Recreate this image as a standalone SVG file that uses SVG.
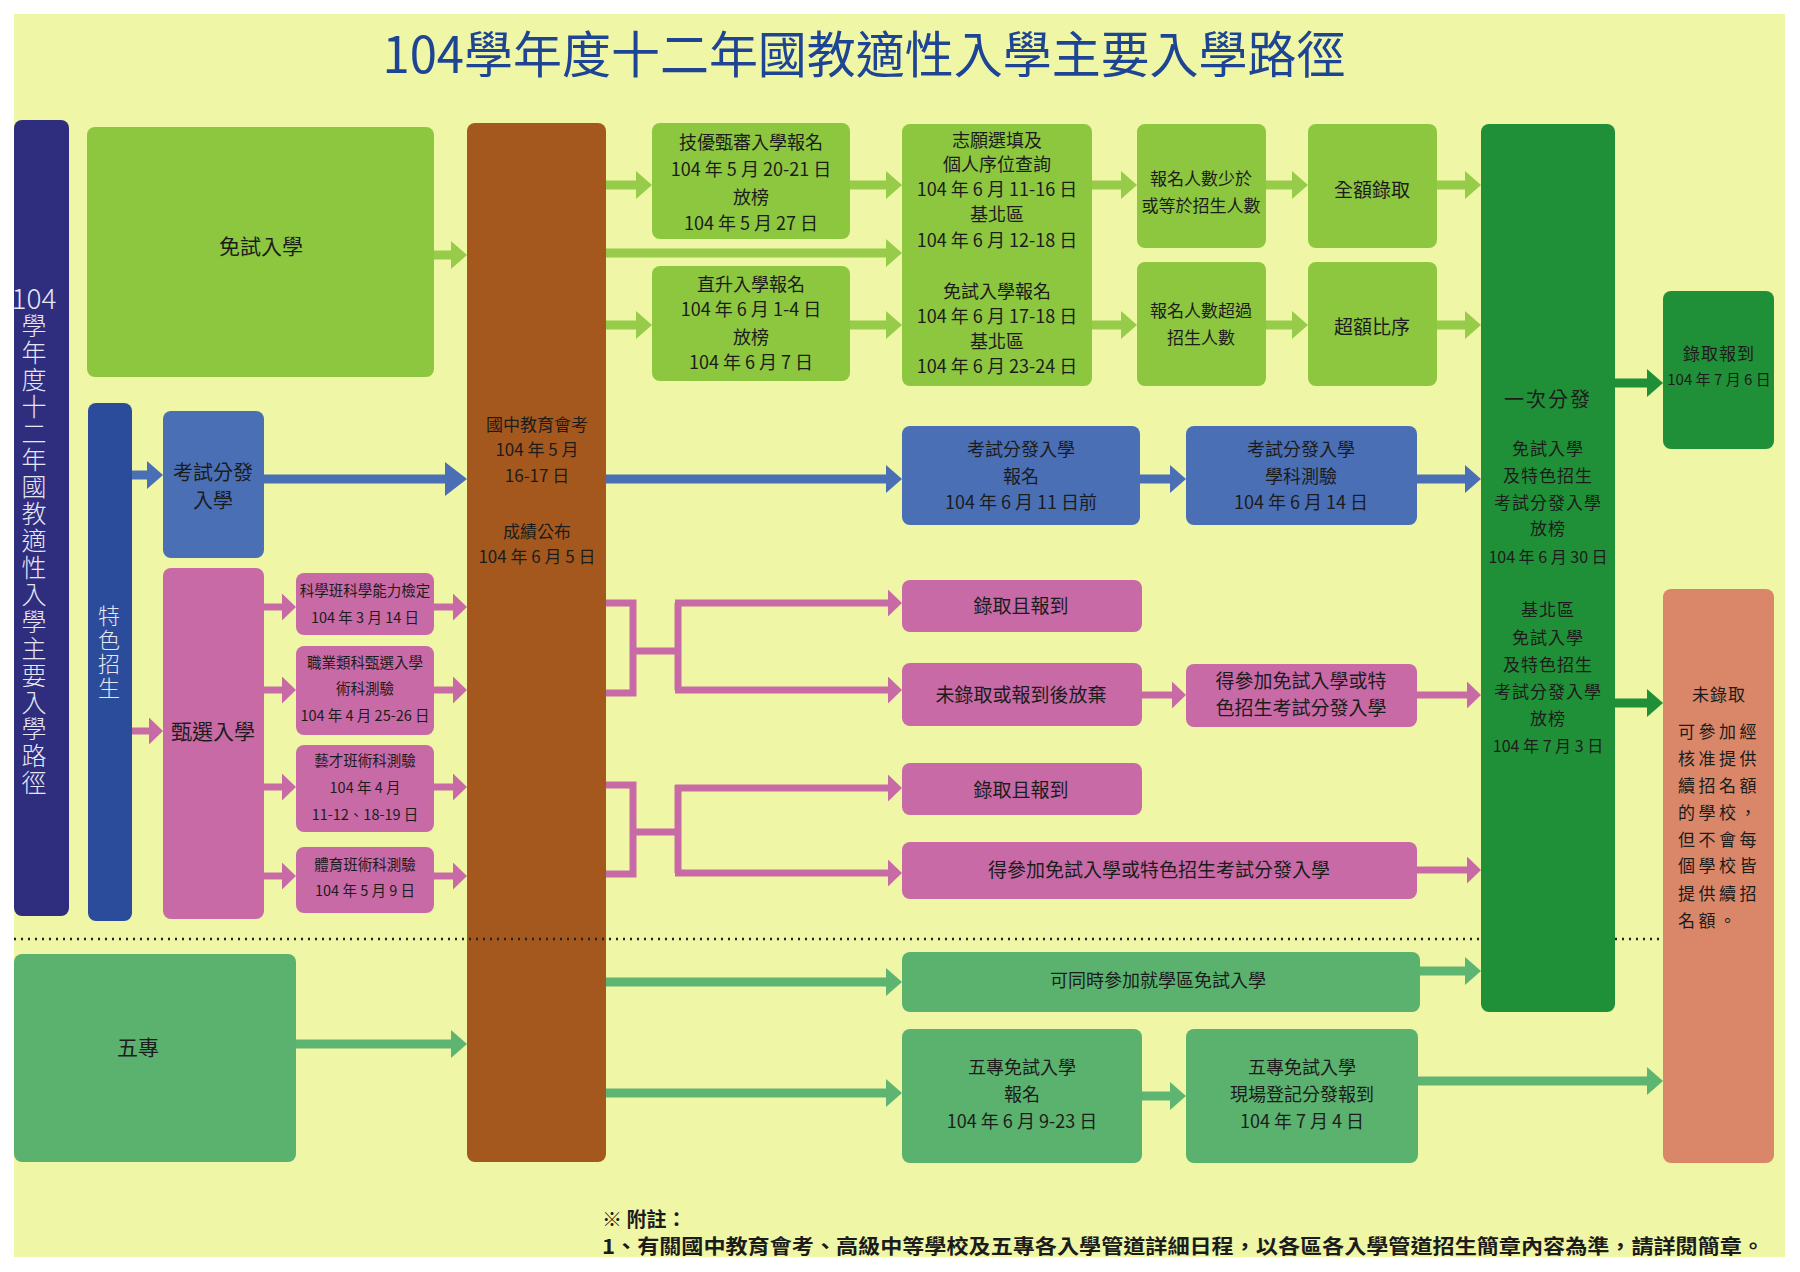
<svg xmlns="http://www.w3.org/2000/svg" width="1800" height="1272" viewBox="0 0 1800 1272">
<defs>
<style>
text{font-family:"Noto Sans CJK TC","Noto Sans CJK SC","Noto Sans",sans-serif;fill:#1c1c1c}
.c{text-anchor:middle}
.f18{font-size:18px}
.f19{font-size:19px}
.f17{font-size:17px}
.f15{font-size:14.5px}
.f21{font-size:21px}
.lt{fill:#e6e6f4;font-weight:300}
.vt{writing-mode:vertical-rl;text-orientation:upright}
.lg{fill:#8DC63F}.mg{fill:#5AB26E}.dg{fill:#209038}.bl{fill:#4A6FB5}.pk{fill:#C86AA6}
.a{fill:none;stroke-width:9}
.alg{stroke:#97CB4A;marker-end:url(#mlg)}
.amg{stroke:#5DB571;marker-end:url(#mmg)}
.adg{stroke:#209038;marker-end:url(#mdg)}
.abl{stroke:#4A6FB5;marker-end:url(#mbl)}
.apk{stroke:#C86AA6;stroke-width:7;marker-end:url(#mpk)}
.pkl{fill:none;stroke:#C86AA6;stroke-width:7}
.dot{stroke:#222;stroke-width:2.5;stroke-dasharray:2 5}
</style>
<marker id="mlg" markerUnits="userSpaceOnUse" markerWidth="16" markerHeight="28" viewBox="0 0 16 28" refX="6" refY="14" orient="auto"><path d="M0,0L16,14L0,28Z" fill="#97CB4A"/></marker>
<marker id="mmg" markerUnits="userSpaceOnUse" markerWidth="16" markerHeight="28" viewBox="0 0 16 28" refX="6" refY="14" orient="auto"><path d="M0,0L16,14L0,28Z" fill="#5DB571"/></marker>
<marker id="mdg" markerUnits="userSpaceOnUse" markerWidth="16" markerHeight="28" viewBox="0 0 16 28" refX="6" refY="14" orient="auto"><path d="M0,0L16,14L0,28Z" fill="#209038"/></marker>
<marker id="mbl" markerUnits="userSpaceOnUse" markerWidth="16" markerHeight="28" viewBox="0 0 16 28" refX="6" refY="14" orient="auto"><path d="M0,0L16,14L0,28Z" fill="#4A6FB5"/></marker>
<marker id="mbig" markerUnits="userSpaceOnUse" markerWidth="22" markerHeight="34" viewBox="0 0 22 34" refX="8" refY="17" orient="auto"><path d="M0,0L22,17L0,34Z" fill="#4A6FB5"/></marker>
<marker id="mpk" markerUnits="userSpaceOnUse" markerWidth="14" markerHeight="27" viewBox="0 0 14 27" refX="4" refY="13.5" orient="auto"><path d="M0,0L14,13.5L0,27Z" fill="#C86AA6"/></marker>
</defs>
<rect width="1800" height="1272" fill="#ffffff"/>
<rect x="14" y="14" width="1771" height="1243" fill="#EFF7A6"/>

<text id="title" x="864" y="73" class="c" style="font-size:50px;fill:#1E4594" textLength="963" lengthAdjust="spacingAndGlyphs">104學年度十二年國教適性入學主要入學路徑</text>

<g id="connectors">
<line class="a alg" x1="434" y1="255" x2="457" y2="255"/>
<line class="a alg" x1="606" y1="185" x2="642" y2="185"/>
<line class="a alg" x1="606" y1="253" x2="892" y2="253"/>
<line class="a alg" x1="606" y1="325" x2="642" y2="325"/>
<line class="a alg" x1="850" y1="185" x2="892" y2="185"/>
<line class="a alg" x1="850" y1="325" x2="892" y2="325"/>
<line class="a alg" x1="1092" y1="185" x2="1127" y2="185"/>
<line class="a alg" x1="1092" y1="325" x2="1127" y2="325"/>
<line class="a alg" x1="1266" y1="185" x2="1298" y2="185"/>
<line class="a alg" x1="1266" y1="325" x2="1298" y2="325"/>
<line class="a alg" x1="1437" y1="185" x2="1471" y2="185"/>
<line class="a alg" x1="1437" y1="325" x2="1471" y2="325"/>

<line class="a abl" x1="132" y1="475" x2="153" y2="475"/>
<line class="a abl" x1="264" y1="479" x2="453" y2="479" style="marker-end:url(#mbig)"/>
<line class="a abl" x1="606" y1="479" x2="892" y2="479"/>
<line class="a abl" x1="1140" y1="479" x2="1176" y2="479"/>
<line class="a abl" x1="1417" y1="479" x2="1471" y2="479"/>

<line class="a apk" x1="132" y1="731" x2="153" y2="731"/>
<line class="a apk" x1="264" y1="607" x2="286" y2="607"/>
<line class="a apk" x1="264" y1="690" x2="286" y2="690"/>
<line class="a apk" x1="264" y1="787" x2="286" y2="787"/>
<line class="a apk" x1="264" y1="876" x2="286" y2="876"/>
<line class="a apk" x1="434" y1="607" x2="457" y2="607"/>
<line class="a apk" x1="434" y1="690" x2="457" y2="690"/>
<line class="a apk" x1="434" y1="787" x2="457" y2="787"/>
<line class="a apk" x1="434" y1="876" x2="457" y2="876"/>
<path class="pkl" d="M606,603H633V693H606M633,651H678M678,603V690"/>
<path class="pkl" d="M606,785H633V874H606M633,832H678M678,785V873"/>
<line class="a apk" x1="675" y1="603" x2="892" y2="603"/>
<line class="a apk" x1="675" y1="690" x2="892" y2="690"/>
<line class="a apk" x1="675" y1="788" x2="892" y2="788"/>
<line class="a apk" x1="675" y1="873" x2="892" y2="873"/>
<line class="a apk" x1="1142" y1="695" x2="1176" y2="695"/>
<line class="a apk" x1="1417" y1="695" x2="1471" y2="695"/>
<line class="a apk" x1="1417" y1="870" x2="1471" y2="870"/>

<line class="a adg" x1="1615" y1="383" x2="1653" y2="383"/>
<line class="a adg" x1="1615" y1="703" x2="1653" y2="703"/>

<line class="a amg" x1="606" y1="982" x2="892" y2="982"/>
<line class="a amg" x1="1420" y1="971" x2="1471" y2="971"/>
<line class="a amg" x1="296" y1="1044" x2="457" y2="1044"/>
<line class="a amg" x1="606" y1="1093" x2="892" y2="1093"/>
<line class="a amg" x1="1142" y1="1096" x2="1176" y2="1096"/>
<line class="a amg" x1="1417" y1="1081" x2="1653" y2="1081"/>
</g>

<g id="n-side">
<rect x="14" y="120" width="55" height="796" rx="8" fill="#2E2D7E"/>
<text x="34" y="309" class="c lt" style="font-size:28px">104</text>
<text class="lt vt" style="font-size:25px;letter-spacing:1.9px" x="34" y="313">學年度十二年國教適性入學主要入學路徑</text>
</g>
<g id="n-tese">
<rect x="88" y="403" width="44" height="518" rx="8" fill="#2B4C9B"/>
<text class="lt vt" style="font-size:22px;letter-spacing:1.8px" x="109" y="605">特色招生</text>
</g>
<g id="n-mianshi">
<rect class="lg" x="87" y="127" width="347" height="250" rx="8"/>
<text x="261" y="254" class="c f21">免試入學</text>
</g>
<g id="n-kaoshi">
<rect class="bl" x="163" y="411" width="101" height="147" rx="8"/>
<text x="213" y="480" class="c" style="font-size:20px">考試分發</text>
<text x="213" y="508" class="c" style="font-size:20px">入學</text>
</g>
<g id="n-zhenxuan">
<rect class="pk" x="163" y="568" width="101" height="351" rx="8"/>
<text x="213" y="739" class="c f21">甄選入學</text>
</g>
<g id="n-kexue">
<rect class="pk" x="296" y="573" width="138" height="62" rx="8"/>
<text x="365" y="596" class="c f15">科學班科學能力檢定</text>
<text x="365" y="623" class="c f15">104 年 3 月 14 日</text>
</g>
<g id="n-zhiye">
<rect class="pk" x="296" y="646" width="138" height="89" rx="8"/>
<text x="365" y="668" class="c f15">職業類科甄選入學</text>
<text x="365" y="694" class="c f15">術科測驗</text>
<text x="365" y="721" class="c f15">104 年 4 月 25-26 日</text>
</g>
<g id="n-yicai">
<rect class="pk" x="296" y="745" width="138" height="87" rx="8"/>
<text x="365" y="766" class="c f15">藝才班術科測驗</text>
<text x="365" y="793" class="c f15">104 年 4 月</text>
<text x="365" y="820" class="c f15">11-12、18-19 日</text>
</g>
<g id="n-tiyu">
<rect class="pk" x="296" y="847" width="138" height="66" rx="8"/>
<text x="365" y="870" class="c f15">體育班術科測驗</text>
<text x="365" y="896" class="c f15">104 年 5 月 9 日</text>
</g>
<g id="n-huikao">
<rect x="467" y="123" width="139" height="1039" rx="8" fill="#A4581E"/>
<text x="537" y="431" class="c f17">國中教育會考</text>
<text x="537" y="456" class="c f17">104 年 5 月</text>
<text x="537" y="482" class="c f17">16-17 日</text>
<text x="537" y="538" class="c f17">成績公布</text>
<text x="537" y="563" class="c f17">104 年 6 月 5 日</text>
</g>
<g id="n-jiyou">
<rect class="lg" x="652" y="123" width="198" height="116" rx="8"/>
<text x="751" y="149" class="c f18">技優甄審入學報名</text>
<text x="751" y="176" class="c f18">104 年 5 月 20-21 日</text>
<text x="751" y="204" class="c f18">放榜</text>
<text x="751" y="230" class="c f18">104 年 5 月 27 日</text>
</g>
<g id="n-zhisheng">
<rect class="lg" x="652" y="266" width="198" height="115" rx="8"/>
<text x="751" y="291" class="c f18">直升入學報名</text>
<text x="751" y="316" class="c f18">104 年 6 月 1-4 日</text>
<text x="751" y="344" class="c f18">放榜</text>
<text x="751" y="369" class="c f18">104 年 6 月 7 日</text>
</g>
<g id="n-zhiyuan">
<rect class="lg" x="902" y="124" width="190" height="262" rx="8"/>
<text x="997" y="147" class="c f18">志願選填及</text>
<text x="997" y="171" class="c f18">個人序位查詢</text>
<text x="997" y="196" class="c f18">104 年 6 月 11-16 日</text>
<text x="997" y="221" class="c f18">基北區</text>
<text x="997" y="247" class="c f18">104 年 6 月 12-18 日</text>
<text x="997" y="298" class="c f18">免試入學報名</text>
<text x="997" y="323" class="c f18">104 年 6 月 17-18 日</text>
<text x="997" y="348" class="c f18">基北區</text>
<text x="997" y="373" class="c f18">104 年 6 月 23-24 日</text>
</g>
<g id="n-shaoyu">
<rect class="lg" x="1137" y="124" width="129" height="124" rx="8"/>
<text x="1201" y="185" class="c f17">報名人數少於</text>
<text x="1201" y="212" class="c f17">或等於招生人數</text>
</g>
<g id="n-chaoguo">
<rect class="lg" x="1137" y="262" width="129" height="124" rx="8"/>
<text x="1201" y="317" class="c f17">報名人數超過</text>
<text x="1201" y="344" class="c f17">招生人數</text>
</g>
<g id="n-quane">
<rect class="lg" x="1308" y="124" width="129" height="124" rx="8"/>
<text x="1372" y="197" class="c f19">全額錄取</text>
</g>
<g id="n-chaoe">
<rect class="lg" x="1308" y="262" width="129" height="124" rx="8"/>
<text x="1372" y="334" class="c f19">超額比序</text>
</g>
<g id="n-baoming">
<rect class="bl" x="902" y="426" width="238" height="99" rx="8"/>
<text x="1021" y="456" class="c f18">考試分發入學</text>
<text x="1021" y="483" class="c f18">報名</text>
<text x="1021" y="509" class="c f18">104 年 6 月 11 日前</text>
</g>
<g id="n-xueke">
<rect class="bl" x="1186" y="426" width="231" height="99" rx="8"/>
<text x="1301" y="456" class="c f18">考試分發入學</text>
<text x="1301" y="483" class="c f18">學科測驗</text>
<text x="1301" y="509" class="c f18">104 年 6 月 14 日</text>
</g>
<g id="n-luqu1">
<rect class="pk" x="902" y="580" width="240" height="52" rx="8"/>
<text x="1021" y="613" class="c f19">錄取且報到</text>
</g>
<g id="n-weiluqu1">
<rect class="pk" x="902" y="663" width="240" height="63" rx="8"/>
<text x="1021" y="702" class="c f19">未錄取或報到後放棄</text>
</g>
<g id="n-decanjia1">
<rect class="pk" x="1186" y="664" width="231" height="63" rx="8"/>
<text x="1301" y="688" class="c f19">得參加免試入學或特</text>
<text x="1301" y="715" class="c f19">色招生考試分發入學</text>
</g>
<g id="n-luqu2">
<rect class="pk" x="902" y="763" width="240" height="52" rx="8"/>
<text x="1021" y="797" class="c f19">錄取且報到</text>
</g>
<g id="n-decanjia2">
<rect class="pk" x="902" y="842" width="515" height="57" rx="8"/>
<text x="1159" y="877" class="c f19">得參加免試入學或特色招生考試分發入學</text>
</g>
<g id="n-wuzhuan">
<rect class="mg" x="14" y="954" width="282" height="208" rx="8"/>
<text x="138" y="1055" class="c f21">五專</text>
</g>
<g id="n-tongshi">
<rect class="mg" x="902" y="952" width="518" height="60" rx="8"/>
<text x="1158" y="987" class="c f18">可同時參加就學區免試入學</text>
</g>
<g id="n-wz-baoming">
<rect class="mg" x="902" y="1029" width="240" height="134" rx="8"/>
<text x="1022" y="1074" class="c f18">五專免試入學</text>
<text x="1022" y="1101" class="c f18">報名</text>
<text x="1022" y="1128" class="c f18">104 年 6 月 9-23 日</text>
</g>
<g id="n-wz-dengji">
<rect class="mg" x="1186" y="1029" width="232" height="134" rx="8"/>
<text x="1302" y="1074" class="c f18">五專免試入學</text>
<text x="1302" y="1101" class="c f18">現場登記分發報到</text>
<text x="1302" y="1128" class="c f18">104 年 7 月 4 日</text>
</g>
<g id="n-yici">
<rect class="dg" x="1481" y="124" width="134" height="888" rx="8"/>
<text x="1548" y="407" class="c" style="font-size:20px;letter-spacing:2px">一次分發</text>
<g class="c f17">
<text x="1548" y="455" style="letter-spacing:1px">免試入學</text>
<text x="1548" y="482" style="letter-spacing:1px">及特色招生</text>
<text x="1548" y="509" style="letter-spacing:1px">考試分發入學</text>
<text x="1548" y="535" style="letter-spacing:1px">放榜</text>
<text x="1548" y="563" style="font-size:16px">104 年 6 月 30 日</text>
<text x="1548" y="616" style="letter-spacing:1px">基北區</text>
<text x="1548" y="644" style="letter-spacing:1px">免試入學</text>
<text x="1548" y="671" style="letter-spacing:1px">及特色招生</text>
<text x="1548" y="698" style="letter-spacing:1px">考試分發入學</text>
<text x="1548" y="725" style="letter-spacing:1px">放榜</text>
<text x="1548" y="752" style="font-size:16px">104 年 7 月 3 日</text>
</g>
</g>
<g id="n-baodao">
<rect class="dg" x="1663" y="291" width="111" height="158" rx="8"/>
<text x="1719" y="360" class="c f17" style="letter-spacing:1px">錄取報到</text>
<text x="1719" y="385" class="c" style="font-size:15px">104 年 7 月 6 日</text>
</g>
<g id="n-weiluqu">
<rect x="1663" y="589" width="111" height="574" rx="8" fill="#D98768"/>
<text x="1719" y="701" class="c f17" style="letter-spacing:1px">未錄取</text>
<g class="f17" style="letter-spacing:3.5px">
<text x="1678" y="738">可參加經</text>
<text x="1678" y="765">核准提供</text>
<text x="1678" y="792">續招名額</text>
<text x="1678" y="819">的學校，</text>
<text x="1678" y="846">但不會每</text>
<text x="1678" y="872">個學校皆</text>
<text x="1678" y="900">提供續招</text>
<text x="1678" y="927">名額。</text>
</g>
</g>

<line class="dot" x1="14" y1="939" x2="1481" y2="939"/>
<line class="dot" x1="1615" y1="939" x2="1663" y2="939"/>

<g id="note">
<text x="602" y="1227" style="font-size:20px;font-weight:700">※ 附註：</text>
<text x="602" y="1254" style="font-size:20px;font-weight:700" textLength="1162" lengthAdjust="spacingAndGlyphs">1、有關國中教育會考、高級中等學校及五專各入學管道詳細日程，以各區各入學管道招生簡章內容為準，請詳閱簡章。</text>
</g>
</svg>
